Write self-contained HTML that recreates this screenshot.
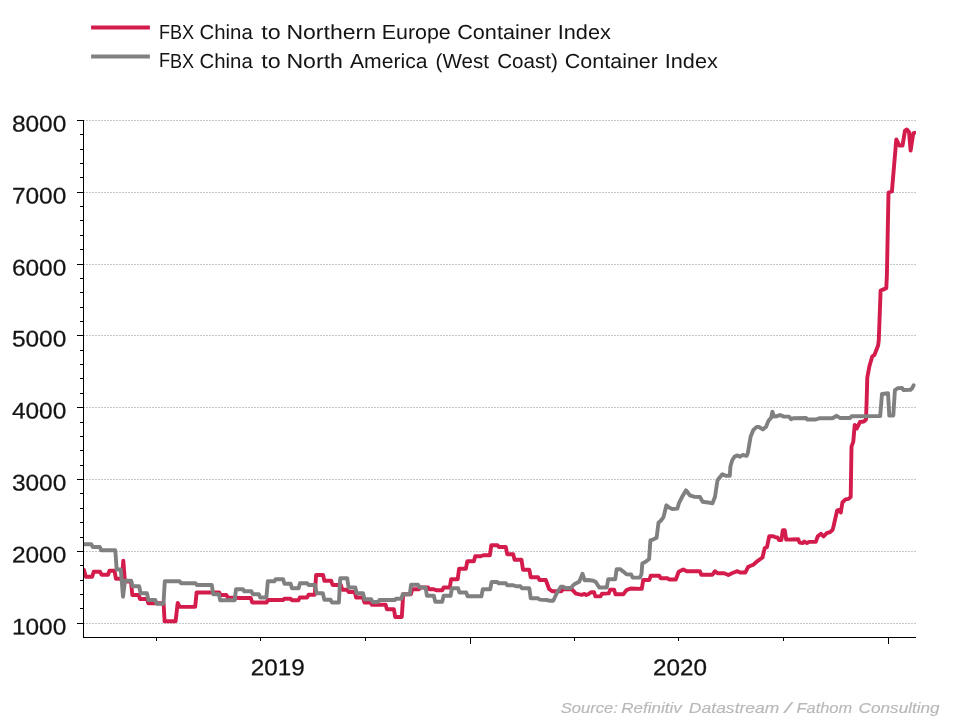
<!DOCTYPE html>
<html lang="en">
<head>
<meta charset="utf-8">
<title>FBX Container Index</title>
<style>
html,body{margin:0;padding:0;background:#fff;}
body{width:960px;height:720px;overflow:hidden;font-family:"Liberation Sans",sans-serif;}
svg{display:block;will-change:transform;}
</style>
</head>
<body>
<svg width="960" height="720" viewBox="0 0 960 720">
<rect width="960" height="720" fill="#ffffff"/>
<g stroke="#c3c8cc" stroke-width="1" stroke-dasharray="2 1" shape-rendering="crispEdges">
<line x1="83" y1="120.5" x2="916" y2="120.5"/>
<line x1="83" y1="192.5" x2="916" y2="192.5"/>
<line x1="83" y1="264.5" x2="916" y2="264.5"/>
<line x1="83" y1="335.5" x2="916" y2="335.5"/>
<line x1="83" y1="407.5" x2="916" y2="407.5"/>
<line x1="83" y1="479.5" x2="916" y2="479.5"/>
<line x1="83" y1="551.5" x2="916" y2="551.5"/>
<line x1="83" y1="623.5" x2="916" y2="623.5"/>
</g>
<defs><clipPath id="plot"><rect x="84" y="100" width="832" height="537"/></clipPath></defs>
<g clip-path="url(#plot)">
<polyline fill="none" stroke="#d31c4c" stroke-width="3.9" stroke-linejoin="round" stroke-linecap="round" points="84.0,570.0 85.8,576.7 92.2,576.7 93.7,571.7 100.0,571.7 101.5,574.7 108.0,574.7 109.5,570.8 114.5,570.8 115.9,578.7 120.0,578.7 122.0,578.7 123.3,560.6 124.9,581.2 126.0,581.5 131.0,581.5 132.3,595.0 138.7,595.0 140.1,599.0 147.0,599.0 148.4,603.3 163.6,603.3 164.6,621.3 175.6,621.3 177.7,602.9 179.8,606.9 195.2,606.9 196.6,592.5 219.2,592.5 220.5,595.0 226.4,595.0 227.8,597.5 240.0,598.0 250.8,598.0 252.2,602.5 266.6,602.5 267.9,600.0 283.1,600.0 284.4,598.7 290.6,598.7 291.9,600.3 298.4,600.3 299.8,597.5 307.2,597.5 308.6,594.7 314.8,594.7 316.1,575.0 323.1,575.0 324.4,580.8 331.2,580.8 332.6,585.0 340.9,585.0 342.3,589.7 347.2,589.7 348.6,592.0 354.8,592.0 356.1,597.5 363.1,597.5 364.4,602.5 370.6,602.5 371.9,604.7 385.6,604.7 386.9,609.2 393.9,609.2 395.2,617.0 401.8,617.0 403.2,594.2 410.9,594.2 412.3,589.2 418.9,589.2 420.2,587.5 428.1,587.5 429.4,589.2 433.3,589.2 436.7,590.3 442.2,590.3 443.6,587.5 449.8,587.5 451.1,579.2 457.7,579.2 459.1,568.7 465.9,568.7 467.3,561.3 473.9,561.3 475.2,556.3 480.8,556.3 483.3,555.3 489.9,555.3 491.3,545.3 497.5,545.3 498.9,547.0 505.8,547.0 507.2,554.2 513.2,554.2 514.6,559.7 521.5,559.7 523.0,569.7 529.3,569.7 530.7,577.2 538.0,577.2 539.5,580.0 545.8,580.0 549.2,589.2 552.5,591.3 561.3,591.3 562.8,589.2 571.7,589.2 575.9,593.7 581.7,594.8 584.5,593.9 586.3,595.0 588.3,594.2 591.0,592.2 594.0,592.2 595.4,596.4 600.5,596.4 601.9,593.8 608.8,593.4 610.2,589.6 614.0,589.6 615.5,594.3 623.3,594.3 626.5,590.1 630.6,588.5 641.8,588.9 643.2,580.0 649.3,580.0 650.7,575.8 659.3,575.8 660.7,578.3 667.6,578.3 669.1,579.5 675.8,579.5 678.7,571.7 683.3,569.5 686.7,571.2 699.9,571.2 701.3,574.7 712.5,574.7 715.0,571.2 717.5,573.3 724.2,573.3 728.3,575.0 732.5,573.0 737.5,571.2 740.0,572.5 745.3,572.5 748.3,566.7 753.3,564.7 756.7,561.7 762.5,557.5 764.7,548.3 767.0,547.0 769.2,536.3 773.3,536.3 775.5,537.3 777.5,537.5 779.0,540.0 781.4,540.0 782.8,530.2 784.8,530.2 786.2,539.6 798.2,539.2 799.6,542.6 802.5,543.1 804.4,541.6 807.0,543.1 809.0,541.9 815.8,541.9 817.7,536.4 821.0,533.8 823.6,536.4 826.8,533.2 829.9,532.2 832.5,530.1 833.5,526.5 837.2,510.3 838.8,510.0 840.8,512.4 842.4,502.5 845.5,499.4 848.6,498.9 850.7,496.8 851.5,446.7 853.3,441.7 854.7,425.0 856.7,428.5 860.0,422.0 863.8,421.5 866.0,419.5 866.6,402.5 867.3,377.5 869.4,366.3 872.3,356.3 874.4,355.0 878.1,345.5 878.8,340.0 880.6,290.6 886.3,288.1 886.9,275.0 888.5,192.5 891.9,191.5 893.8,168.8 896.3,139.4 899.4,145.6 902.5,145.6 905.0,130.6 906.9,129.4 909.0,131.9 910.6,150.6 913.3,133.3 914.6,132.8"/>
<polyline fill="none" stroke="#808080" stroke-width="3.9" stroke-linejoin="round" stroke-linecap="round" points="84.0,544.2 91.3,544.2 92.8,547.0 99.8,547.0 101.2,550.3 115.3,550.3 116.7,569.5 120.8,569.5 123.0,596.7 125.0,580.8 131.2,580.8 132.6,586.3 139.2,586.3 140.6,593.3 147.0,593.3 148.4,600.0 155.3,600.0 156.7,603.7 163.5,603.7 164.8,581.2 179.5,581.2 180.9,583.2 195.5,583.2 196.8,585.0 211.8,585.0 213.2,594.2 218.9,594.2 220.2,600.3 234.7,600.3 236.0,589.2 242.9,589.2 244.3,591.3 251.4,591.3 252.8,594.2 258.9,594.2 260.2,597.5 266.4,597.5 267.8,581.3 274.3,581.3 275.7,579.2 283.1,579.2 284.4,583.7 290.6,583.7 291.9,588.3 298.6,588.3 300.0,583.3 307.2,583.3 308.6,585.0 315.2,585.0 316.6,593.3 322.9,593.3 324.3,599.7 330.6,599.7 331.9,602.5 338.9,602.5 340.2,578.3 347.2,578.3 348.6,587.5 355.3,587.5 356.7,593.3 363.1,593.3 364.4,599.2 371.2,599.2 372.6,602.0 378.1,602.0 379.4,600.0 394.8,600.0 396.1,598.7 401.4,598.7 402.8,594.2 409.8,594.2 411.1,584.7 418.1,584.7 419.4,587.5 425.6,587.5 426.9,595.8 433.9,595.8 435.2,601.7 442.2,601.7 443.6,595.8 450.6,595.8 451.9,588.3 458.1,588.3 459.4,592.5 466.2,592.5 467.6,596.3 481.4,596.3 482.8,589.2 490.2,589.2 491.6,582.0 497.2,582.0 498.6,583.3 505.9,583.3 507.3,585.3 513.3,585.3 515.8,586.3 520.5,586.3 522.0,588.3 529.3,588.3 530.7,598.3 538.0,598.3 539.5,599.6 546.7,600.0 550.0,600.8 553.3,600.8 556.7,593.3 560.8,586.7 563.4,586.7 564.9,588.0 570.8,588.0 574.2,584.2 579.2,581.7 582.5,573.7 584.7,580.3 588.3,580.0 593.3,580.8 595.8,582.0 599.2,587.5 606.8,587.5 608.2,579.2 615.2,579.2 616.6,569.3 620.4,569.3 623.3,571.6 626.5,574.3 631.2,574.5 632.7,577.6 640.0,577.6 641.5,574.0 642.3,563.4 646.0,561.6 649.1,559.0 650.4,540.3 653.0,539.6 656.6,537.8 658.5,522.8 661.0,520.5 663.5,517.1 666.4,505.3 669.0,507.5 672.3,509.0 677.3,508.6 679.1,502.8 682.3,496.5 686.0,490.3 689.8,495.3 694.8,496.9 700.0,497.0 702.5,501.7 708.3,502.5 712.5,503.3 715.0,496.7 717.5,480.3 721.7,475.0 722.5,474.2 725.8,475.8 729.8,475.8 730.4,466.5 732.2,460.3 734.6,456.6 737.5,455.4 740.0,456.7 742.5,455.0 746.7,455.8 747.8,453.3 750.6,436.7 753.3,430.0 756.7,426.9 759.0,427.0 762.8,429.4 766.1,426.7 768.3,421.1 771.1,417.8 772.4,411.7 773.9,416.5 776.5,416.3 780.0,415.0 783.9,416.6 788.9,416.6 791.1,419.3 793.3,418.2 805.9,418.0 807.4,419.5 815.8,419.5 819.2,418.3 832.5,418.3 836.7,415.8 840.0,418.0 850.1,418.0 851.6,416.3 880.2,416.0 882.0,393.9 888.0,393.1 889.3,415.6 893.3,415.6 894.9,390.2 898.0,388.1 902.0,388.0 903.5,390.0 910.5,389.8 912.3,388.0 913.6,385.3"/>
</g>
<g stroke="#000000" stroke-width="1" shape-rendering="crispEdges">
<line x1="83.5" y1="120" x2="83.5" y2="638"/>
<line x1="83" y1="637.5" x2="916" y2="637.5"/>
<line x1="77" y1="120.5" x2="84" y2="120.5"/>
<line x1="77" y1="192.5" x2="84" y2="192.5"/>
<line x1="77" y1="264.5" x2="84" y2="264.5"/>
<line x1="77" y1="335.5" x2="84" y2="335.5"/>
<line x1="77" y1="407.5" x2="84" y2="407.5"/>
<line x1="77" y1="479.5" x2="84" y2="479.5"/>
<line x1="77" y1="551.5" x2="84" y2="551.5"/>
<line x1="77" y1="623.5" x2="84" y2="623.5"/>
<line x1="80" y1="134.5" x2="84" y2="134.5"/>
<line x1="80" y1="149.5" x2="84" y2="149.5"/>
<line x1="80" y1="163.5" x2="84" y2="163.5"/>
<line x1="80" y1="177.5" x2="84" y2="177.5"/>
<line x1="80" y1="206.5" x2="84" y2="206.5"/>
<line x1="80" y1="220.5" x2="84" y2="220.5"/>
<line x1="80" y1="235.5" x2="84" y2="235.5"/>
<line x1="80" y1="249.5" x2="84" y2="249.5"/>
<line x1="80" y1="278.5" x2="84" y2="278.5"/>
<line x1="80" y1="292.5" x2="84" y2="292.5"/>
<line x1="80" y1="307.5" x2="84" y2="307.5"/>
<line x1="80" y1="321.5" x2="84" y2="321.5"/>
<line x1="80" y1="350.5" x2="84" y2="350.5"/>
<line x1="80" y1="364.5" x2="84" y2="364.5"/>
<line x1="80" y1="378.5" x2="84" y2="378.5"/>
<line x1="80" y1="393.5" x2="84" y2="393.5"/>
<line x1="80" y1="422.5" x2="84" y2="422.5"/>
<line x1="80" y1="436.5" x2="84" y2="436.5"/>
<line x1="80" y1="450.5" x2="84" y2="450.5"/>
<line x1="80" y1="465.5" x2="84" y2="465.5"/>
<line x1="80" y1="493.5" x2="84" y2="493.5"/>
<line x1="80" y1="508.5" x2="84" y2="508.5"/>
<line x1="80" y1="522.5" x2="84" y2="522.5"/>
<line x1="80" y1="537.5" x2="84" y2="537.5"/>
<line x1="80" y1="565.5" x2="84" y2="565.5"/>
<line x1="80" y1="580.5" x2="84" y2="580.5"/>
<line x1="80" y1="594.5" x2="84" y2="594.5"/>
<line x1="80" y1="608.5" x2="84" y2="608.5"/>
<line x1="470.5" y1="637" x2="470.5" y2="644"/>
<line x1="888.5" y1="637" x2="888.5" y2="644"/>
<line x1="156.5" y1="637" x2="156.5" y2="641"/>
<line x1="260.5" y1="637" x2="260.5" y2="641"/>
<line x1="365.5" y1="637" x2="365.5" y2="641"/>
<line x1="574.5" y1="637" x2="574.5" y2="641"/>
<line x1="678.5" y1="637" x2="678.5" y2="641"/>
<line x1="783.5" y1="637" x2="783.5" y2="641"/>
</g>
<line x1="91.1" y1="27.5" x2="149.9" y2="27.5" stroke="#d31c4c" stroke-width="4"/>
<line x1="91.1" y1="56.5" x2="149.9" y2="56.5" stroke="#808080" stroke-width="4"/>
<g font-family="'Liberation Sans', sans-serif" fill="#141414" stroke="#141414" stroke-width="0.25" text-rendering="geometricPrecision">
<text transform="rotate(0.008 160 38.55)" y="38.55" font-size="20.3" stroke="none"><tspan x="159.02" textLength="35.16" lengthAdjust="spacingAndGlyphs">FBX</tspan> <tspan x="199.52" textLength="53.30" lengthAdjust="spacingAndGlyphs">China</tspan> <tspan x="261.38" textLength="19.42" lengthAdjust="spacingAndGlyphs">to</tspan> <tspan x="286.40" textLength="89.58" lengthAdjust="spacingAndGlyphs">Northern</tspan> <tspan x="381.78" textLength="69.02" lengthAdjust="spacingAndGlyphs">Europe</tspan> <tspan x="457.20" textLength="93.92" lengthAdjust="spacingAndGlyphs">Container</tspan> <tspan x="557.72" textLength="53.08" lengthAdjust="spacingAndGlyphs">Index</tspan></text>
<text transform="rotate(0.008 160 67.5)" y="67.5" font-size="20.3" stroke="none"><tspan x="159.02" textLength="35.16" lengthAdjust="spacingAndGlyphs">FBX</tspan> <tspan x="199.52" textLength="53.30" lengthAdjust="spacingAndGlyphs">China</tspan> <tspan x="261.38" textLength="19.42" lengthAdjust="spacingAndGlyphs">to</tspan> <tspan x="286.40" textLength="56.58" lengthAdjust="spacingAndGlyphs">North</tspan> <tspan x="350.00" textLength="77.50" lengthAdjust="spacingAndGlyphs">America</tspan> <tspan x="435.58" textLength="53.30" lengthAdjust="spacingAndGlyphs">(West</tspan> <tspan x="497.20" textLength="60.78" lengthAdjust="spacingAndGlyphs">Coast)</tspan> <tspan x="564.82" textLength="93.18" lengthAdjust="spacingAndGlyphs">Container</tspan> <tspan x="664.78" textLength="53.02" lengthAdjust="spacingAndGlyphs">Index</tspan></text>
<text transform="rotate(0.03 66.3 131.5)" x="66.3" y="131.50" font-size="22.6" text-anchor="end" textLength="54.4" lengthAdjust="spacingAndGlyphs">8000</text>
<text transform="rotate(0.03 66.3 203.5)" x="66.3" y="203.50" font-size="22.6" text-anchor="end" textLength="54.4" lengthAdjust="spacingAndGlyphs">7000</text>
<text transform="rotate(0.03 66.3 275.5)" x="66.3" y="275.50" font-size="22.6" text-anchor="end" textLength="54.4" lengthAdjust="spacingAndGlyphs">6000</text>
<text transform="rotate(0.03 66.3 346.5)" x="66.3" y="346.50" font-size="22.6" text-anchor="end" textLength="54.4" lengthAdjust="spacingAndGlyphs">5000</text>
<text transform="rotate(0.03 66.3 418.5)" x="66.3" y="418.50" font-size="22.6" text-anchor="end" textLength="54.4" lengthAdjust="spacingAndGlyphs">4000</text>
<text transform="rotate(0.03 66.3 490.5)" x="66.3" y="490.50" font-size="22.6" text-anchor="end" textLength="54.4" lengthAdjust="spacingAndGlyphs">3000</text>
<text transform="rotate(0.03 66.3 562.5)" x="66.3" y="562.50" font-size="22.6" text-anchor="end" textLength="54.4" lengthAdjust="spacingAndGlyphs">2000</text>
<text transform="rotate(0.03 66.3 634.5)" x="66.3" y="634.50" font-size="22.6" text-anchor="end" textLength="54.4" lengthAdjust="spacingAndGlyphs">1000</text>
<text transform="rotate(0.03 277.7 675.2)" x="277.7" y="675.2" font-size="22.8" text-anchor="middle" textLength="54.0" lengthAdjust="spacingAndGlyphs">2019</text>
<text transform="rotate(0.03 679.9 675.2)" x="679.9" y="675.2" font-size="22.8" text-anchor="middle" textLength="54.0" lengthAdjust="spacingAndGlyphs">2020</text>
</g>
<text y="713.2" font-family="'Liberation Sans', sans-serif" font-style="italic" font-size="14.8" fill="#b8b8b8" stroke="#b8b8b8" stroke-width="0.15"><tspan x="560.70" textLength="57.10" lengthAdjust="spacingAndGlyphs">Source:</tspan> <tspan x="621.26" textLength="60.56" lengthAdjust="spacingAndGlyphs">Refinitiv</tspan> <tspan x="688.88" textLength="90.54" lengthAdjust="spacingAndGlyphs">Datastream</tspan> <tspan x="784.42" textLength="6.80" lengthAdjust="spacingAndGlyphs">/</tspan> <tspan x="796.50" textLength="55.68" lengthAdjust="spacingAndGlyphs">Fathom</tspan> <tspan x="858.64" textLength="81.04" lengthAdjust="spacingAndGlyphs">Consulting</tspan></text>
</svg>
</body>
</html>
